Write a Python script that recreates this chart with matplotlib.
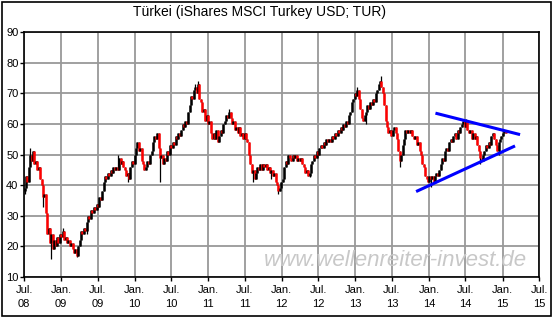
import numpy as np
import matplotlib
matplotlib.use('Agg')
import matplotlib.pyplot as plt
import matplotlib.dates as mdates
from matplotlib.patches import Rectangle

plt.rcParams['font.family'] = ['Liberation Sans', 'DejaVu Sans']

# weekly closes (USD), first week ends 2008-07-04
start_week = '2008-07-04'
first_open = 38
closes = [
    39, 43, 41, 46, 50, 48, 51, 47, 48, 45, 46, 42, 40,
    36, 37, 31, 24, 26, 21, 24, 19, 22, 20, 23, 21, 24,
    23, 25, 22, 23, 21, 22, 20, 21, 19, 18, 19, 17, 20,
    22, 25, 24, 26, 25, 28, 30, 29, 32, 31, 33, 32, 34,
    33, 36, 35, 38, 41, 43, 42, 44, 43, 45, 44, 46, 45,
    46, 45, 49, 47, 48, 46, 45, 43, 44, 42, 46, 48, 47,
    50, 52, 54, 51, 52, 48, 47, 45, 46, 48, 47, 50, 51,
    54, 56, 55, 57, 52, 49, 50, 47, 49, 48, 51, 50, 53,
    52, 54, 53, 56, 55, 57, 56, 58, 60, 59, 61, 60, 64,
    66, 69, 68, 71, 72, 70, 73, 68, 67, 64, 65, 61, 63,
    60, 61, 57, 55, 57, 55, 58, 54, 56, 58, 57, 60, 61,
    63, 62, 64, 62, 60, 61, 58, 59, 57, 59, 56, 57, 55,
    57, 55, 54, 50, 47, 44, 45, 42, 44, 46, 45, 47, 45,
    47, 46, 47, 45, 46, 44, 45, 43, 44, 41, 40, 38, 39,
    41, 42, 46, 48, 47, 50, 49, 48, 50, 49, 50, 48, 49,
    48, 49, 47, 46, 44, 45, 43, 44, 47, 48, 50, 49, 51,
    50, 52, 53, 52, 54, 53, 55, 54, 55, 54, 56, 55, 57,
    56, 58, 57, 59, 58, 60, 59, 61, 60, 63, 64, 67, 68,
    70, 69, 71, 68, 65, 62, 61, 63, 64, 66, 65, 67, 66,
    68, 67, 70, 71, 73, 74, 72, 70, 66, 61, 59, 57, 58,
    56, 58, 59, 57, 55, 51, 48, 50, 53, 55, 58, 57, 58,
    57, 58, 56, 55, 56, 53, 54, 51, 50, 47, 46, 43, 42,
    41, 43, 42, 43, 41, 43, 44, 43, 45, 47, 49, 48, 51,
    52, 51, 54, 55, 54, 56, 57, 55, 58, 57, 59, 60, 61,
    59, 61, 58, 57, 58, 55, 57, 55, 56, 53, 51, 49, 48,
    50, 51, 53, 52, 54, 53, 56, 57, 55, 53, 51, 54, 55,
    56, 57, 58, 57,
]
# weeks whose intraday extreme sticks out beyond the open/close body
spike_weeks = [0, 4, 13, 19, 27, 37, 44, 66, 73, 96, 121, 123, 145,
               162, 175, 180, 202, 236, 242, 253, 266, 288, 313, 323, 336]
spike_values = [37, 52, 33, 16, 26, 16.5, 24, 50, 41, 41, 73, 74, 65,
                41, 42, 37, 42.5, 72, 60, 75.5, 46, 39.5, 61.5, 47, 50]

# hand drawn triangle lines
upper_dates = ['2014-02-02', '2015-03-29']
upper_values = [63.5, 56.5]
lower_dates = ['2013-10-29', '2015-03-04']
lower_values = [37.9, 52.8]

tick_dates = ['2008-07-01', '2009-01-01', '2009-07-01', '2010-01-01',
              '2010-07-01', '2011-01-01', '2011-07-01', '2012-01-01',
              '2012-07-01', '2013-01-01', '2013-07-01', '2014-01-01',
              '2014-07-01', '2015-01-01', '2015-07-01']
tick_labels = ['Jul.\n08', 'Jan.\n09', 'Jul.\n09', 'Jan.\n10', 'Jul.\n10',
               'Jan.\n11', 'Jul.\n11', 'Jan.\n12', 'Jul.\n12', 'Jan.\n13',
               'Jul.\n13', 'Jan.\n14', 'Jul.\n14', 'Jan.\n15', 'Jul.\n15']
y_ticks = [10, 20, 30, 40, 50, 60, 70, 80, 90]


def to_num(dates):
    return mdates.date2num(np.array(dates, dtype='datetime64[D]'))


def main():
    fig = plt.figure(figsize=(5.53, 3.18), dpi=100)
    ax = fig.add_axes([0.0434, 0.1289, 0.9313, 0.7705])

    # weekly candles: open = previous close
    c = np.array(closes, dtype=float)
    o = np.concatenate([[first_open], c[:-1]])
    hi = np.maximum(o, c)
    lo = np.minimum(o, c)
    wick_hi = hi.copy()
    wick_lo = lo.copy()
    for w, v in zip(spike_weeks, spike_values):
        wick_hi[w] = max(wick_hi[w], v)
        wick_lo[w] = min(wick_lo[w], v)
    dates = np.datetime64(start_week) + np.arange(len(c)) * np.timedelta64(7, 'D')
    x = mdates.date2num(dates)
    colors = np.where(c >= o, 'black', '#ff0000')
    ax.vlines(x, wick_lo, wick_hi, colors='black', linewidth=0.9, zorder=3)
    ax.vlines(x, lo, hi, colors=colors, linewidth=1.8, zorder=3)

    ax.plot(to_num(upper_dates), upper_values, color='#0000ff', lw=2.2,
            solid_capstyle='butt', zorder=4)
    ax.plot(to_num(lower_dates), lower_values, color='#0000ff', lw=2.2,
            solid_capstyle='butt', zorder=4)

    # axes
    ax.set_xlim(to_num(['2008-07-01'])[0], to_num(['2015-07-01'])[0])
    ax.set_ylim(10, 90)
    ax.set_xticks(to_num(tick_dates))
    ax.set_xticklabels(tick_labels, linespacing=1.45)
    ax.set_yticks(y_ticks)
    ax.tick_params(axis='both', labelsize=8, length=3, width=1,
                   color='black', labelcolor='black')
    ax.tick_params(axis='y', pad=1)
    ax.tick_params(axis='x', pad=3)
    ax.grid(True, color='#999999', linewidth=1.3)
    ax.set_axisbelow(True)
    for s in ax.spines.values():
        s.set_color('black')
        s.set_linewidth(1.2)

    # texts
    fig.text(0.47, 0.962, 'Türkei (iShares MSCI Turkey USD; TUR)',
             ha='center', va='center', fontsize=10)
    ax.text(0.977, 0.069, 'www.wellenreiter-invest.de', transform=ax.transAxes,
            ha='right', va='center', fontsize=16, style='italic',
            color='#c8c8c8', zorder=2)

    # outer frame
    fig.patches.append(Rectangle((0.003, 0.006), 0.994, 0.988,
                                 transform=fig.transFigure, fill=False,
                                 edgecolor='black', linewidth=1.2))

    fig.savefig('out.png', dpi=100)


if __name__ == '__main__':
    main()
